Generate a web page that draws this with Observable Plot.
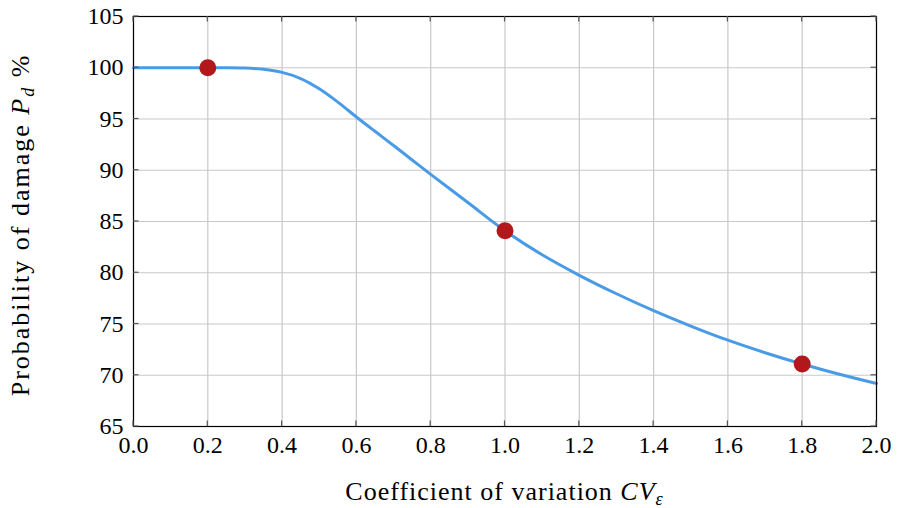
<!DOCTYPE html>
<html>
<head>
<meta charset="utf-8">
<script src="https://cdn.jsdelivr.net/npm/d3@7"></script>
<script src="https://cdn.jsdelivr.net/npm/@observablehq/plot@0.6"></script>
<style>
  html, body { margin: 0; padding: 0; background: white; }
  #chart { width: 899px; height: 508px; }
</style>
</head>
<body>
<div id="chart"></div>
<script>
// Curve: coefficient of variation vs probability of damage (%)
const cvValues = [0.0, 0.1, 0.2, 0.25, 0.3, 0.35, 0.4, 0.45, 0.5, 0.55, 0.6, 0.65, 0.7, 0.75, 0.8, 0.9, 1.0, 1.1, 1.2, 1.3, 1.4, 1.5, 1.6, 1.7, 1.8, 1.9, 2.0];
const pdValues = [100, 100, 100, 100, 99.97, 99.85, 99.55, 98.95, 97.95, 96.65, 95.2, 93.8, 92.42, 91.0, 89.6, 86.85, 84.1, 81.75, 79.75, 77.95, 76.3, 74.8, 73.42, 72.2, 71.1, 70.1, 69.2];

// Highlighted points
const markCv = [0.2, 1.0, 1.8];
const markPd = [100, 84.1, 71.1];

// Tick values
const xTicks = [0.0, 0.2, 0.4, 0.6, 0.8, 1.0, 1.2, 1.4, 1.6, 1.8, 2.0];
const yTicks = [65, 70, 75, 80, 85, 90, 95, 100, 105];

(function () {
const FONT = "'Liberation Serif', 'Times New Roman', Times, serif";
const curve = cvValues.map((x, i) => ({x, y: pdValues[i]}));
const marks = markCv.map((x, i) => ({x, y: markPd[i]}));

const plot = Plot.plot({
  width: 899,
  height: 508,
  marginLeft: 133,
  marginRight: 23,
  marginTop: 16,
  marginBottom: 82,
  style: {fontFamily: FONT, fontSize: "24px", background: "white", color: "black"},
  x: {domain: [0, 2], label: null},
  y: {domain: [65, 105], label: null},
  marks: [
    Plot.gridX(xTicks, {stroke: "#c8c8c8", strokeOpacity: 1, strokeWidth: 1.2}),
    Plot.gridY(yTicks, {stroke: "#c8c8c8", strokeOpacity: 1, strokeWidth: 1.2}),
    Plot.axisX(xTicks, {tickSize: 0, tickPadding: 9, tickFormat: d => d.toFixed(1), fontSize: 24, fontFamily: FONT, label: null}),
    Plot.axisY(yTicks, {tickSize: 0, tickPadding: 10, fontSize: 24, fontFamily: FONT, label: null}),
    Plot.line(curve, {x: "x", y: "y", stroke: "#4a9be6", strokeWidth: 3, curve: "catmull-rom"}),
    Plot.dot(marks, {x: "x", y: "y", r: 8.5, fill: "#b2181b", stroke: "none"}),
    Plot.frame({stroke: "black", strokeWidth: 1.2})
  ]
});

document.getElementById("chart").appendChild(plot);

// Inward tick marks on all four sides, positioned via the plot's scales
const sx = plot.scale("x");
const sy = plot.scale("y");
const svg = d3.select(plot);
const yTop = sy.apply(105), yBottom = sy.apply(65), xLeft = sx.apply(0), xRight = sx.apply(2);
const tl = 5.5;
const tg = svg.append("g").attr("stroke", "#555").attr("stroke-width", 1.2);
xTicks.forEach(v => {
  const px = sx.apply(v);
  tg.append("line").attr("x1", px).attr("x2", px).attr("y1", yBottom).attr("y2", yBottom - tl);
  tg.append("line").attr("x1", px).attr("x2", px).attr("y1", yTop).attr("y2", yTop + tl);
});
yTicks.forEach(v => {
  const py = sy.apply(v);
  tg.append("line").attr("y1", py).attr("y2", py).attr("x1", xLeft).attr("x2", xLeft + tl);
  tg.append("line").attr("y1", py).attr("y2", py).attr("x1", xRight).attr("x2", xRight - tl);
});

// Axis labels
const cx = (xLeft + xRight) / 2, cy = (yTop + yBottom) / 2;
const xl = svg.append("text")
  .attr("x", cx).attr("y", 500)
  .attr("text-anchor", "middle")
  .attr("font-family", FONT)
  .attr("font-size", 26)
  .attr("letter-spacing", 1)
  .attr("fill", "black");
xl.append("tspan").text("Coefficient of variation ");
xl.append("tspan").attr("font-style", "italic").text("CV");
xl.append("tspan").attr("font-style", "italic").attr("font-size", 18).attr("dy", 5).text("ε");

const yl = svg.append("text")
  .attr("transform", `translate(29,${cy + 4}) rotate(-90)`)
  .attr("text-anchor", "middle")
  .attr("font-family", FONT)
  .attr("font-size", 26)
  .attr("letter-spacing", 2)
  .attr("fill", "black");
yl.append("tspan").text("Probability of damage ");
yl.append("tspan").attr("font-style", "italic").text("P");
yl.append("tspan").attr("font-style", "italic").attr("font-size", 18).attr("dy", 5).text("d");
yl.append("tspan").attr("dy", -5).text(" %");
})();
</script>
</body>
</html>
